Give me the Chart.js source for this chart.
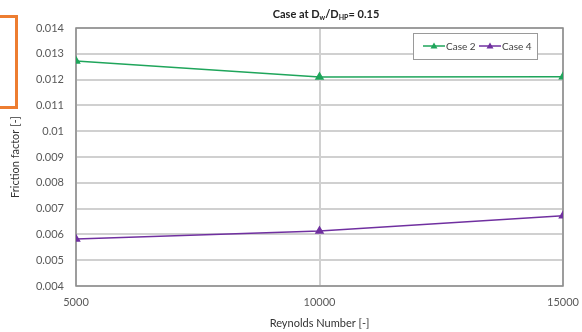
<!DOCTYPE html>
<html lang="en">
<head>
    <meta charset="UTF-8">
    <title>Friction factor</title>
    <script src="https://cdn.jsdelivr.net/npm/chart.js"></script>
    <style>
        body { margin: 0; background: #fff; }
        #wrap { position: relative; width: 582px; height: 332px; overflow: hidden; }
        #mark {
            position: absolute; left: -10px; top: 15px; width: 22px; height: 88px;
            border: 3px solid #ED7D31;
        }
    </style>
</head>
<body>
<div id="wrap">
    <canvas id="chart" width="582" height="332"></canvas>
    <div id="mark"></div>
</div>
<script>
    const reynolds = [5000, 10000, 15000];
    const case2 = [0.01272, 0.0121, 0.01211];
    const case4 = [0.00582, 0.00613, 0.00672];
    const seriesNames = ['Case 2', 'Case 4'];
    const seriesColors = ['#1fa55b', '#7030a0'];

    const FONT = 'Lato, "Open Sans", sans-serif';

    // little line + triangle swatch for the legend
    function swatch(color) {
        const c = document.createElement('canvas');
        c.width = 22; c.height = 10;
        const g = c.getContext('2d');
        g.strokeStyle = color; g.lineWidth = 1.5;
        g.beginPath(); g.moveTo(0, 5); g.lineTo(22, 5); g.stroke();
        g.fillStyle = color;
        g.beginPath(); g.moveTo(11, 1.5); g.lineTo(14.5, 7.5); g.lineTo(7.5, 7.5); g.closePath(); g.fill();
        return c;
    }

    const titlePlugin = {
        id: 'subTitle',
        afterDraw(chart) {
            const ctx = chart.ctx;
            const parts = [['Case at D', 0], ['w', 1], ['/D', 0], ['HP', 1], ['= 0.15', 0]];
            ctx.save();
            ctx.fillStyle = '#222';
            ctx.textBaseline = 'alphabetic';
            let total = 0;
            parts.forEach(p => {
                ctx.font = 'bold ' + (p[1] ? 7 : 11) + 'px ' + FONT;
                total += ctx.measureText(p[0]).width;
            });
            let x = 326 - total / 2;
            parts.forEach(p => {
                ctx.font = 'bold ' + (p[1] ? 7 : 11) + 'px ' + FONT;
                ctx.fillText(p[0], x, p[1] ? 20 : 18);
                x += ctx.measureText(p[0]).width;
            });
            ctx.restore();
        }
    };

    const legendBox = {
        id: 'legendBox',
        afterDraw(chart) {
            const ctx = chart.ctx;
            const a = chart.chartArea;
            const x0 = a.right - 150, y0 = a.top + 5, w = 124, h = 26;
            ctx.save();
            ctx.fillStyle = '#fff';
            ctx.fillRect(x0, y0, w, h);
            ctx.strokeStyle = '#9a9a9a';
            ctx.lineWidth = 1;
            ctx.strokeRect(x0 + 0.5, y0 + 0.5, w, h);
            ctx.font = '10px ' + FONT;
            ctx.fillStyle = '#404040';
            ctx.textBaseline = 'middle';
            let x = x0 + 10;
            chart.data.datasets.forEach((ds, i) => {
                ctx.drawImage(swatch(seriesColors[i]), x, y0 + h / 2 - 5);
                ctx.fillText(ds.label, x + 23, y0 + h / 2 + 1);
                x += 56;
            });
            ctx.restore();
        }
    };

    const frame = {
        id: 'frame',
        beforeDatasetsDraw(chart) {
            const a = chart.chartArea, ctx = chart.ctx;
            ctx.save();
            ctx.strokeStyle = '#8c8c8c';
            ctx.lineWidth = 1.5;
            ctx.strokeRect(a.left, a.top, a.right - a.left, a.bottom - a.top);
            ctx.restore();
        }
    };

    new Chart(document.getElementById('chart'), {
        type: 'line',
        data: {
            datasets: [case2, case4].map((vals, i) => ({
                label: seriesNames[i],
                data: reynolds.map((r, j) => ({ x: r, y: vals[j] })),
                borderColor: seriesColors[i],
                backgroundColor: seriesColors[i],
                borderWidth: 1.5,
                pointStyle: 'triangle',
                pointRadius: 4,
                tension: 0
            }))
        },
        options: {
            responsive: false,
            animation: false,
            layout: { padding: { top: 28, right: 19, left: 0, bottom: 0 } },
            plugins: {
                legend: { display: false },
                title: { display: false },
                tooltip: { enabled: false }
            },
            scales: {
                x: {
                    type: 'linear',
                    min: 5000, max: 15000,
                    ticks: {
                        stepSize: 5000, color: '#595959', font: { family: FONT, size: 11 }, padding: 10, maxRotation: 0,
                        callback: v => String(v)
                    },
                    grid: { color: '#d0d0d0', lineWidth: 2, drawTicks: false },
                    border: { display: false },
                    title: { display: true, text: 'Reynolds Number [-]', color: '#333', font: { family: FONT, size: 11 }, padding: { top: 6, bottom: 2 } },
                    afterFit(s) { s.height = 46; s.paddingRight = 0; s.paddingLeft = 0; }
                },
                y: {
                    min: 0.004, max: 0.014,
                    ticks: {
                        stepSize: 0.001, color: '#595959', font: { family: FONT, size: 11 }, padding: 12,
                        callback: v => parseFloat(v.toFixed(3)).toString()
                    },
                    grid: { color: '#d0d0d0', lineWidth: 2, drawTicks: false },
                    border: { display: false },
                    title: { display: true, text: 'Friction factor [-]', color: '#333', font: { family: FONT, size: 11 }, padding: { top: 9, bottom: 2 } },
                    afterFit(s) { s.width = 76; s.paddingTop = 0; s.paddingBottom = 0; }
                }
            }
        },
        plugins: [frame, titlePlugin, legendBox]
    });
</script>
</body>
</html>
